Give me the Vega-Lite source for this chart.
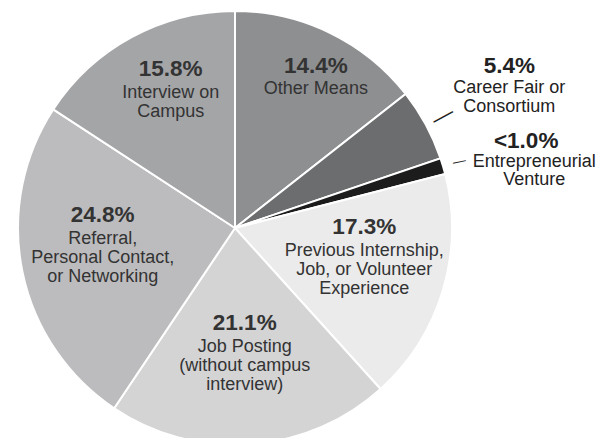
{
  "$schema": "https://vega.github.io/schema/vega-lite/v6.json",
  "width": 470,
  "height": 456,
  "autosize": {"type": "none"},
  "padding": {"left": 0, "top": 0, "right": 127, "bottom": 0},
  "background": "white",
  "config": {"view": {"stroke": null}, "font": "Liberation Sans"},
  "data": {
    "values": [
      {"cat": "Other Means", "value": 14.4, "pct": "14.4%", "desc": "Other Means", "order": 1},
      {"cat": "Career Fair or Consortium", "value": 5.4, "pct": "5.4%", "desc": "Career Fair or\nConsortium", "order": 2},
      {"cat": "Entrepreneurial Venture", "value": 1.2, "pct": "<1.0%", "desc": "Entrepreneurial\nVenture", "order": 3},
      {"cat": "Previous Internship, Job, or Volunteer Experience", "value": 17.3, "pct": "17.3%", "desc": "Previous Internship,\nJob, or Volunteer\nExperience", "order": 4},
      {"cat": "Job Posting (without campus interview)", "value": 21.1, "pct": "21.1%", "desc": "Job Posting\n(without campus\ninterview)", "order": 5},
      {"cat": "Referral, Personal Contact, or Networking", "value": 24.8, "pct": "24.8%", "desc": "Referral,\nPersonal Contact,\nor Networking", "order": 6},
      {"cat": "Interview on Campus", "value": 15.8, "pct": "15.8%", "desc": "Interview on\nCampus", "order": 7}
    ]
  },
  "encoding": {
    "theta": {"field": "value", "type": "quantitative", "stack": true},
    "order": {"field": "order", "type": "quantitative"},
    "detail": {"field": "cat", "type": "nominal"}
  },
  "layer": [
    {
      "mark": {"type": "arc", "outerRadius": 217, "stroke": "white", "strokeWidth": 2},
      "encoding": {
        "color": {
          "field": "cat", "type": "nominal", "legend": null,
          "scale": {
            "domain": ["Other Means", "Career Fair or Consortium", "Entrepreneurial Venture", "Previous Internship, Job, or Volunteer Experience", "Job Posting (without campus interview)", "Referral, Personal Contact, or Networking", "Interview on Campus"],
            "range": ["#8e8f91", "#6c6d6f", "#1c1c1c", "#ebebeb", "#d4d4d5", "#bcbcbe", "#a4a5a7"]
          }
        }
      }
    },
    {
      "mark": {"type": "text", "fontSize": 22.5, "fontWeight": "bold", "color": "#333333", "align": "center", "baseline": "alphabetic", "dy": -33},
      "encoding": {
        "radius": {"value": 135},
        "text": {"field": "pct", "type": "nominal", "condition": {"test": "datum.order <= 3", "value": ""}}
      }
    },
    {
      "mark": {"type": "text", "fontSize": 18, "color": "#333333", "align": "center", "baseline": "alphabetic", "lineBreak": "\n", "lineHeight": 19, "dy": -11},
      "encoding": {
        "radius": {"value": 135},
        "text": {"field": "desc", "type": "nominal", "condition": {"test": "datum.order <= 3", "value": ""}}
      }
    },
    {
      "mark": {"type": "text", "fontSize": 22.5, "fontWeight": "bold", "color": "#333333", "align": "center", "baseline": "alphabetic", "dy": 11.5},
      "encoding": {
        "radius": {"value": 185},
        "text": {"field": "pct", "type": "nominal", "condition": {"test": "datum.order !== 1", "value": ""}}
      }
    },
    {
      "mark": {"type": "text", "fontSize": 18, "color": "#333333", "align": "center", "baseline": "alphabetic", "lineBreak": "\n", "lineHeight": 19, "dy": 32},
      "encoding": {
        "radius": {"value": 185},
        "text": {"field": "desc", "type": "nominal", "condition": {"test": "datum.order !== 1", "value": ""}}
      }
    },
    {
      "mark": {"type": "text", "fontSize": 22.5, "fontWeight": "bold", "color": "#222222", "align": "center", "baseline": "alphabetic", "dy": -6},
      "encoding": {
        "radius": {"value": 312},
        "text": {"field": "pct", "type": "nominal", "condition": {"test": "datum.order !== 2", "value": ""}}
      }
    },
    {
      "mark": {"type": "text", "fontSize": 18, "color": "#222222", "align": "center", "baseline": "alphabetic", "lineBreak": "\n", "lineHeight": 19, "dy": 14},
      "encoding": {
        "radius": {"value": 312},
        "text": {"field": "desc", "type": "nominal", "condition": {"test": "datum.order !== 2", "value": ""}}
      }
    },
    {
      "mark": {"type": "text", "fontSize": 22.5, "fontWeight": "bold", "color": "#222222", "align": "center", "baseline": "alphabetic", "dy": 8, "dx": -5},
      "encoding": {
        "radius": {"value": 309},
        "text": {"field": "pct", "type": "nominal", "condition": {"test": "datum.order !== 3", "value": ""}}
      }
    },
    {
      "mark": {"type": "text", "fontSize": 18, "color": "#222222", "align": "center", "baseline": "alphabetic", "lineBreak": "\n", "lineHeight": 18.5, "dy": 27, "dx": 3},
      "encoding": {
        "radius": {"value": 309},
        "text": {"field": "desc", "type": "nominal", "condition": {"test": "datum.order !== 3", "value": ""}}
      }
    },
    {
      "mark": {"type": "text", "fontSize": 22, "color": "#222222", "align": "center", "baseline": "middle", "angle": 331.6},
      "encoding": {
        "radius": {"value": 236},
        "text": {"condition": {"test": "datum.order === 2", "value": "—"}, "value": ""}
      }
    },
    {
      "mark": {"type": "text", "fontSize": 13, "color": "#222222", "align": "center", "baseline": "middle", "angle": 348},
      "encoding": {
        "radius": {"value": 234},
        "text": {"condition": {"test": "datum.order === 3", "value": "—"}, "value": ""}
      }
    }
  ]
}
